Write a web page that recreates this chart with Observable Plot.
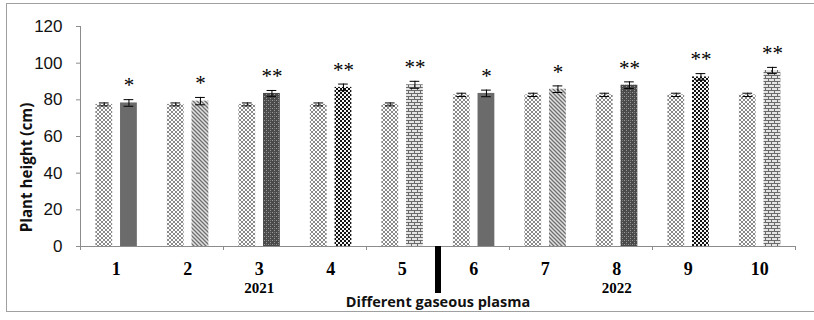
<!DOCTYPE html>
<html>
<head>
<meta charset="utf-8">
<script src="https://cdn.jsdelivr.net/npm/d3@7"></script>
<script src="https://cdn.jsdelivr.net/npm/@observablehq/plot@0.6"></script>
<style>
  html, body { margin: 0; padding: 0; background: #fff; }
  #wrap { position: relative; width: 814px; height: 320px; overflow: hidden; }
  #border { position: absolute; left: 6px; top: 3px; width: 820px; height: 309px; border: 1px solid #a0a0a0; box-sizing: border-box; pointer-events: none; }
</style>
</head>
<body>
<svg width="0" height="0" style="position:absolute">
  <defs>
    <pattern id="p-ctrl" width="4" height="4" patternUnits="userSpaceOnUse">
      <rect width="4" height="4" fill="#fff"/>
      <path d="M0,0L4,4M4,0L0,4" stroke="#8a8a8a" stroke-width="1"/>
    </pattern>
    <pattern id="p-diag" width="4" height="4" patternUnits="userSpaceOnUse">
      <rect width="4" height="4" fill="#e2e2e2"/>
      <path d="M-1,-1L5,5M-1,3L1,5M3,-1L5,1" stroke="#6f6f6f" stroke-width="1.3"/>
    </pattern>
    <pattern id="p-dark" width="4" height="4" patternUnits="userSpaceOnUse">
      <rect width="4" height="4" fill="#4a4a4a"/>
      <rect x="0" y="0" width="1" height="1" fill="#9a9a9a"/>
      <rect x="2" y="2" width="1" height="1" fill="#9a9a9a"/>
      <rect x="2" y="0" width="1" height="1" fill="#777"/>
    </pattern>
    <pattern id="p-check" width="4" height="4" patternUnits="userSpaceOnUse">
      <rect width="4" height="4" fill="#f4f4f4"/>
      <rect x="0" y="0" width="2" height="2" fill="#111"/>
      <rect x="2" y="2" width="2" height="2" fill="#111"/>
    </pattern>
    <pattern id="p-brick" width="6" height="6" patternUnits="userSpaceOnUse">
      <rect width="6" height="6" fill="#e4e4e4"/>
      <path d="M0,0.5H6M0,3.5H6M0.5,0.5V3.5M3.5,3.5V6.5" stroke="#6a6a6a" stroke-width="1"/>
    </pattern>
  </defs>
</svg>
<div id="wrap"><div id="border"></div></div>
<script>
// ---- data ----
const groups = ["1", "2", "3", "4", "5", "6", "7", "8", "9", "10"];
const controlValues = [77.5, 77.5, 77.5, 77.5, 77.5, 82.7, 82.7, 82.7, 82.7, 82.7];
const controlErr = [0.8, 0.8, 0.8, 0.8, 0.8, 0.9, 0.9, 0.9, 0.9, 0.9];
const treatedValues = [78.3, 79.3, 83.5, 86.8, 88.2, 83.5, 85.8, 88.0, 92.5, 96.0];
const treatedErr = [1.8, 2.0, 1.6, 1.8, 1.9, 1.8, 1.8, 1.8, 1.8, 1.7];
const significance = ["*", "*", "**", "**", "**", "*", "*", "**", "**", "**"];
const treatedPattern = ["solid", "diag", "dark", "check", "brick", "solid", "diag", "dark", "check", "brick"];
const yTicks = [0, 20, 40, 60, 80, 100, 120];
const xTicks = [0, 2, 4, 6, 8, 10];
const yearLabels = ["2021", "2022"];
const yearGroups = ["3", "8"];
const yearBreak = [5];
const xTitle = "Different gaseous plasma";
const yTitle = "Plant height (cm)";

// ---- build ----
const patternFill = {solid: "#6b6b6b", diag: "url(#p-diag)", dark: "url(#p-dark)", check: "url(#p-check)", brick: "url(#p-brick)"};
const rows = groups.map((g, i) => ({
  g, i,
  cv: controlValues[i], ce: controlErr[i],
  tv: treatedValues[i], te: treatedErr[i],
  sig: significance[i], fill: patternFill[treatedPattern[i]]
}));
const years = yearLabels.map((label, k) => ({label, i: groups.indexOf(yearGroups[k])}));

const cL = 0.215, cR = 0.45, tL = 0.56, tR = 0.795, cap = 0.068;
const cMid = d => d.i + (cL + cR) / 2;
const tMid = d => d.i + (tL + tR) / 2;
const axisGray = "#8c8c8c";

const chart = Plot.plot({
  width: 814,
  height: 320,
  marginTop: 26,
  marginBottom: 74,
  marginLeft: 80,
  marginRight: 19,
  x: {domain: [0, 10], axis: null},
  y: {domain: [0, 120], axis: null},
  color: {type: "identity"},
  style: {background: "transparent"},
  marks: [
    // bars
    Plot.rectY(rows, {x1: d => d.i + cL, x2: d => d.i + cR, y: "cv", fill: "url(#p-ctrl)"}),
    Plot.rectY(rows, {x1: d => d.i + tL, x2: d => d.i + tR, y: "tv", fill: "fill"}),
    // error bars
    Plot.ruleX(rows, {x: cMid, y1: d => d.cv - d.ce, y2: d => d.cv + d.ce, stroke: "#000"}),
    Plot.ruleY(rows, {y: d => d.cv + d.ce, x1: d => cMid(d) - cap, x2: d => cMid(d) + cap, stroke: "#000"}),
    Plot.ruleY(rows, {y: d => d.cv - d.ce, x1: d => cMid(d) - cap, x2: d => cMid(d) + cap, stroke: "#000"}),
    Plot.ruleX(rows, {x: tMid, y1: d => d.tv - d.te, y2: d => d.tv + d.te, stroke: "#000"}),
    Plot.ruleY(rows, {y: d => d.tv + d.te, x1: d => tMid(d) - cap, x2: d => tMid(d) + cap, stroke: "#000"}),
    Plot.ruleY(rows, {y: d => d.tv - d.te, x1: d => tMid(d) - cap, x2: d => tMid(d) + cap, stroke: "#000"}),
    // significance
    Plot.text(rows, {x: tMid, y: d => d.tv + d.te, text: "sig", dy: -14, fontSize: 21, fontFamily: "Liberation Serif", fill: "#000", style: "letter-spacing:1px"}),
    // axes
    Plot.ruleX([0], {y1: 0, y2: 120, stroke: axisGray}),
    Plot.ruleY(yTicks, {y: d => d, x1: 0, x2: 0, insetLeft: -4, stroke: axisGray}),
    Plot.text(yTicks, {y: d => d, x: 0, text: d => String(d), dx: -18, textAnchor: "end", fontSize: 17, fontFamily: "Liberation Sans", fill: "#111"}),
    Plot.ruleY([0], {x1: 0, x2: 10, stroke: axisGray}),
    Plot.ruleX(xTicks, {x: d => d, y1: 0, y2: 0, insetBottom: -4, stroke: axisGray}),
    // group labels
    Plot.text(rows, {x: d => d.i + 0.5, y: 0, text: "g", dy: 23, fontSize: 18, fontWeight: "bold", fontFamily: "Liberation Serif", fill: "#000"}),
    Plot.text(years, {x: d => d.i + 0.5, y: 0, text: "label", dy: 42, fontSize: 15, fontWeight: "bold", fontFamily: "Liberation Serif", fill: "#000"}),
    // year separator
    Plot.ruleX(yearBreak, {x: d => d, y1: 0, y2: 0, insetBottom: -47, stroke: "#000", strokeWidth: 6}),
    // titles
    Plot.text([xTitle], {x: yearBreak[0], y: 0, text: d => d, dy: 56, fontSize: 14.5, fontWeight: "bold", fontFamily: "Open Sans", fill: "#111"}),
    Plot.text([yTitle], {frameAnchor: "left", textAnchor: "middle", text: d => d, dx: -53, dy: 31, rotate: -90, fontSize: 15.2, fontWeight: "bold", fontFamily: "Open Sans", fill: "#111"})
  ]
});
document.getElementById("wrap").prepend(chart);
</script>
</body>
</html>
